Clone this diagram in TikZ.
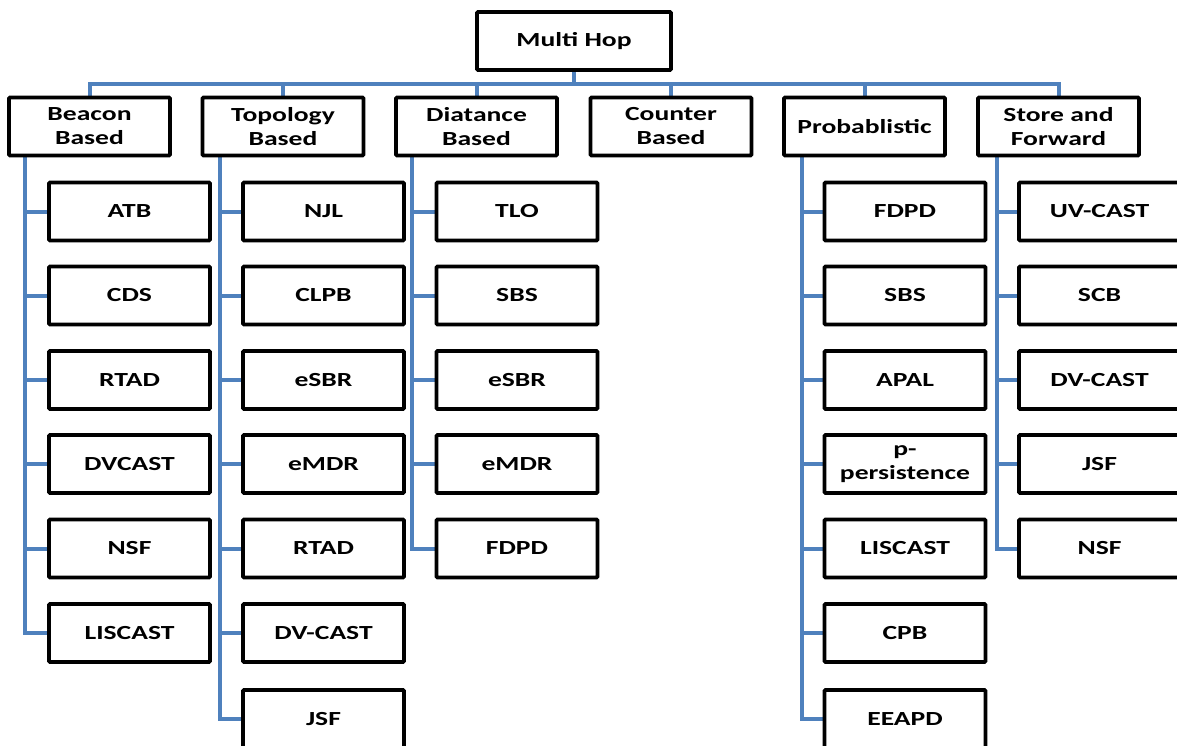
\documentclass[tikz,border=0pt]{standalone}
\usepackage{fontspec}
\setmainfont{Carlito}[FakeStretch=1.38]
\usetikzlibrary{calc}
\usetikzlibrary{backgrounds}
\usepackage{xcolor}
\definecolor{myblue}{HTML}{4F81BD}

\begin{document}
\begin{tikzpicture}[x=1pt,y=-1pt,
    box/.style={draw=black, line width=3.6pt, fill=white, rounded corners=1pt,
      minimum width=161pt, minimum height=58pt, inner sep=0pt, align=center,
      font=\fontsize{20}{24}\selectfont\bfseries},
    link/.style={-, line width=4pt, color=myblue}]

      \useasboundingbox (0,0) rectangle (1177,746);

      \pgfmathsetmacro{\topY}{41}
      \pgfmathsetmacro{\busY}{84}
      \pgfmathsetmacro{\catY}{126.5}
      \pgfmathsetmacro{\rowA}{211.5}
      \pgfmathsetmacro{\rowB}{295.5}
      \pgfmathsetmacro{\rowC}{380}
      \pgfmathsetmacro{\rowD}{464}
      \pgfmathsetmacro{\rowE}{548.5}
      \pgfmathsetmacro{\rowF}{633}
      \pgfmathsetmacro{\rowG}{719}

      % ROOT
      \node [box, name=mh, minimum width=194pt] at (574,\topY) {Multi Hop};

      % categories
      \node [box, name=beacon] at (89.5,\catY) {Beacon\\Based};
      \node [box, name=topo] at (283,\catY) {Topology\\Based};
      \node [box, name=diat] at (476.5,\catY) {Diatance\\Based};
      \node [box, name=counter] at (671,\catY) {Counter\\Based};
      \node [box, name=prob] at (864.5,\catY) {Probablistic};
      \node [box, name=store] at (1058.5,\catY) {Store and\\Forward};

      % beacon based
      \node [box, name=b1] at (129.5,\rowA) {ATB};
      \node [box, name=b2] at (129.5,\rowB) {CDS};
      \node [box, name=b3] at (129.5,\rowC) {RTAD};
      \node [box, name=b4] at (129.5,\rowD) {DVCAST};
      \node [box, name=b5] at (129.5,\rowE) {NSF};
      \node [box, name=b6] at (129.5,\rowF) {LISCAST};

      % topology based
      \node [box, name=t1] at (323.5,\rowA) {NJL};
      \node [box, name=t2] at (323.5,\rowB) {CLPB};
      \node [box, name=t3] at (323.5,\rowC) {eSBR};
      \node [box, name=t4] at (323.5,\rowD) {eMDR};
      \node [box, name=t5] at (323.5,\rowE) {RTAD};
      \node [box, name=t6] at (323.5,\rowF) {DV-CAST};
      \node [box, name=t7] at (323.5,\rowG) {JSF};

      % diatance based
      \node [box, name=d1] at (517,\rowA) {TLO};
      \node [box, name=d2] at (517,\rowB) {SBS};
      \node [box, name=d3] at (517,\rowC) {eSBR};
      \node [box, name=d4] at (517,\rowD) {eMDR};
      \node [box, name=d5] at (517,\rowE) {FDPD};

      % probablistic
      \node [box, name=p1] at (905,\rowA) {FDPD};
      \node [box, name=p2] at (905,\rowB) {SBS};
      \node [box, name=p3] at (905,\rowC) {APAL};
      \node [box, name=p4] at (905,\rowD) {p-\\persistence};
      \node [box, name=p5] at (905,\rowE) {LISCAST};
      \node [box, name=p6] at (905,\rowF) {CPB};
      \node [box, name=p7] at (905,\rowG) {EEAPD};

      % store and forward
      \node [box, name=s1] at (1099.5,\rowA) {UV-CAST};
      \node [box, name=s2] at (1099.5,\rowB) {SCB};
      \node [box, name=s3] at (1099.5,\rowC) {DV-CAST};
      \node [box, name=s4] at (1099.5,\rowD) {JSF};
      \node [box, name=s5] at (1099.5,\rowE) {NSF};

      \begin{scope}[on background layer]
      % bus
      \coordinate (bus) at (0,\busY);
      \draw [link] (mh.south) -- (mh.south |- bus);
      \draw [link] (beacon.north) -- (beacon.north |- bus) -- (store.north |- bus) -- (store.north);
      \draw [link] (topo.north) -- (topo.north |- bus);
      \draw [link] (diat.north) -- (diat.north |- bus);
      \draw [link] (counter.north) -- (counter.north |- bus);
      \draw [link] (prob.north) -- (prob.north |- bus);

      % spines
      \coordinate (bs) at ($(beacon.south)+(-64.5,0)$);
      \coordinate (ts) at ($(topo.south)+(-63,0)$);
      \coordinate (ds) at ($(diat.south)+(-64.5,0)$);
      \coordinate (ps) at ($(prob.south)+(-62.5,0)$);
      \coordinate (ss) at ($(store.south)+(-61.5,0)$);

      \draw [link] (bs) |- (b6.west);
      \draw [link] (b1.west) -- (b1.west -| bs);
      \draw [link] (b2.west) -- (b2.west -| bs);
      \draw [link] (b3.west) -- (b3.west -| bs);
      \draw [link] (b4.west) -- (b4.west -| bs);
      \draw [link] (b5.west) -- (b5.west -| bs);

      \draw [link] (ts) |- (t7.west);
      \draw [link] (t1.west) -- (t1.west -| ts);
      \draw [link] (t2.west) -- (t2.west -| ts);
      \draw [link] (t3.west) -- (t3.west -| ts);
      \draw [link] (t4.west) -- (t4.west -| ts);
      \draw [link] (t5.west) -- (t5.west -| ts);
      \draw [link] (t6.west) -- (t6.west -| ts);

      \draw [link] (ds) |- (d5.west);
      \draw [link] (d1.west) -- (d1.west -| ds);
      \draw [link] (d2.west) -- (d2.west -| ds);
      \draw [link] (d3.west) -- (d3.west -| ds);
      \draw [link] (d4.west) -- (d4.west -| ds);

      \draw [link] (ps) |- (p7.west);
      \draw [link] (p1.west) -- (p1.west -| ps);
      \draw [link] (p2.west) -- (p2.west -| ps);
      \draw [link] (p3.west) -- (p3.west -| ps);
      \draw [link] (p4.west) -- (p4.west -| ps);
      \draw [link] (p5.west) -- (p5.west -| ps);
      \draw [link] (p6.west) -- (p6.west -| ps);

      \draw [link] (ss) |- (s5.west);
      \draw [link] (s1.west) -- (s1.west -| ss);
      \draw [link] (s2.west) -- (s2.west -| ss);
      \draw [link] (s3.west) -- (s3.west -| ss);
      \draw [link] (s4.west) -- (s4.west -| ss);
      \end{scope}

    \end{tikzpicture}
\end{document}
